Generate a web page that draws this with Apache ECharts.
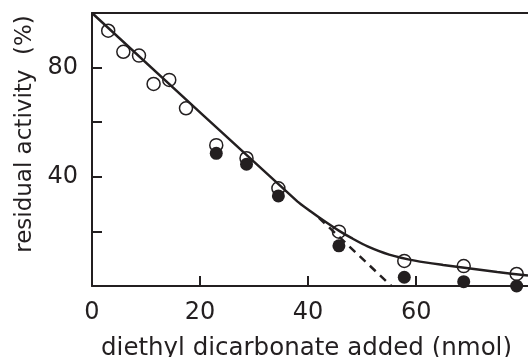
<!DOCTYPE html>
<html>
<head>
<meta charset="utf-8">
<script src="https://cdn.jsdelivr.net/npm/echarts@6/dist/echarts.min.js"></script>
<style>
html,body{margin:0;padding:0;background:#fff;}
#chart{width:528px;height:357px;}
</style>
</head>
<body>
<div id="chart"></div>
<script>
// ---- data ----
var openX = [3.0, 5.8, 8.7, 11.4, 14.3, 17.4, 23.0, 28.6, 34.5, 45.7, 57.8, 68.8, 78.6];
var openY = [93.5, 85.8, 84.4, 74.0, 75.5, 65.1, 51.6, 46.8, 35.8, 19.9, 9.2, 7.3, 4.4];
var filledX = [23.0, 28.6, 34.5, 45.7, 57.8, 68.8, 78.6];
var filledY = [48.6, 44.6, 33.0, 14.7, 3.2, 1.6, 0.0];
var curveX = [0, 38.0, 40.5, 43.0, 45.9, 48.0, 51.0, 55.0, 60.0, 65.0, 70.0, 75.0, 80.7];
var curveY = [100, 31.0, 27.3, 23.8, 20.0, 17.6, 14.5, 11.5, 9.2, 7.7, 6.4, 5.1, 3.8];
var dashX = [42.0, 55.4];
var dashY = [25.0, 0];
var xTicks = [0, 20, 40, 60];
var yTicks = [20, 40, 60, 80];
var yLabels = [40, 80];
var xTitle = 'diethyl dicarbonate added (nmol)';
var yTitle = 'residual activity  (%)';

function zip(a, b) { return a.map(function (v, i) { return [v, b[i]]; }); }

var INK = '#231f20';
var FONT = 'DejaVu Sans';
var XMAX = 80.7;

var chart = echarts.init(document.getElementById('chart'), null, {renderer: 'canvas'});
chart.setOption({
  animation: false,
  backgroundColor: '#fff',
  grid: {left: 92, right: 0, top: 13, bottom: 71, show: false, containLabel: false, outerBoundsMode: 'none'},
  xAxis: [{
    type: 'value', min: 0, max: XMAX,
    name: xTitle, nameLocation: 'middle', nameGap: 50,
    nameTextStyle: {fontFamily: FONT, fontSize: 24.5, color: INK, padding: [0, 7, 0, 0]},
    axisLine: {show: true, onZero: false, lineStyle: {color: INK, width: 2}},
    axisTick: {show: true, inside: true, length: 10, lineStyle: {color: INK, width: 2}, customValues: xTicks},
    axisLabel: {fontFamily: FONT, fontSize: 24, color: INK, margin: 15, customValues: xTicks},
    splitLine: {show: false}
  }, {
    type: 'value', min: 0, max: XMAX, position: 'top',
    axisLine: {show: true, onZero: false, lineStyle: {color: INK, width: 2}},
    axisTick: {show: false}, axisLabel: {show: false}, splitLine: {show: false}
  }],
  yAxis: {
    type: 'value', min: 0, max: 100,
    name: yTitle, nameLocation: 'middle', nameGap: 43, nameRotate: 90,
    nameTextStyle: {fontFamily: FONT, fontSize: 23, color: INK, padding: [0, 0, 0, 31]},
    axisLine: {show: true, lineStyle: {color: INK, width: 2}},
    axisTick: {show: true, inside: true, length: 10, lineStyle: {color: INK, width: 2}, customValues: yTicks},
    axisLabel: {fontFamily: FONT, fontSize: 24, color: INK, margin: 14, customValues: yLabels},
    splitLine: {show: false}
  },
  series: [
    {
      type: 'line', data: zip(curveX, curveY), symbol: 'none',
      smooth: 0.25,
      lineStyle: {color: INK, width: 2.5}, z: 2
    },
    {
      type: 'line', data: zip(dashX, dashY), symbol: 'none',
      lineStyle: {color: INK, width: 2.5, type: [8, 6]}, z: 2
    },
    {
      type: 'scatter', data: zip(openX, openY), symbol: 'circle', symbolSize: 13,
      itemStyle: {color: 'rgba(255,255,255,0)', borderColor: INK, borderWidth: 1.5, opacity: 1}, z: 3
    },
    {
      type: 'scatter', data: zip(filledX, filledY), symbol: 'circle', symbolSize: 13,
      itemStyle: {color: INK, opacity: 1}, z: 4
    }
  ]
});
</script>
</body>
</html>
